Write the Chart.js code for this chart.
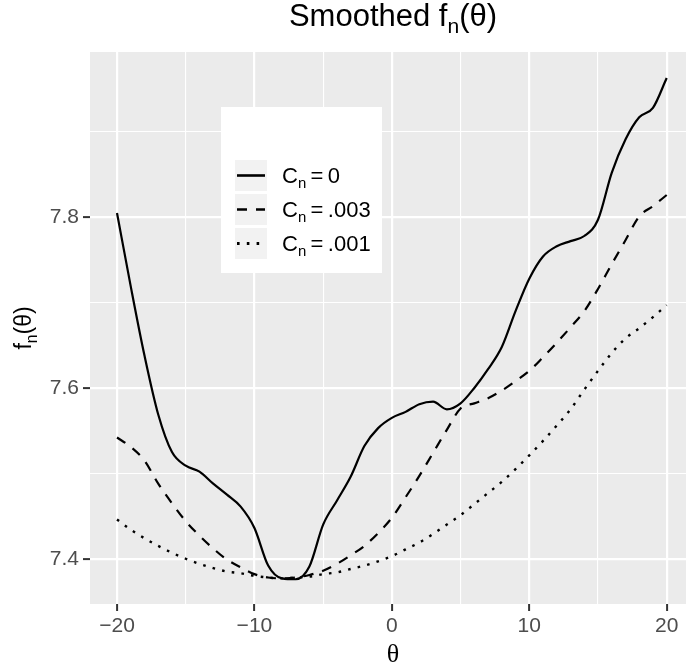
<!DOCTYPE html>
<html>
<head>
<meta charset="utf-8">
<script src="https://cdn.jsdelivr.net/npm/chart.js@4"></script>
<style>
  html, body { margin: 0; padding: 0; background: #ffffff; }
</style>
</head>
<body>
<canvas id="fnChart" width="686" height="669"></canvas>
<script>
// theta grid (x axis)
const theta = [-20,-19,-18,-17,-16,-15,-14,-13,-12,-11,-10,-9,-8,-7,-6,-5,-4,-3,-2,-1,
               0,1,2,3,4,5,6,7,8,9,10,11,12,13,14,15,16,17,18,19,20];

// smoothed f_n(theta) for each C_n
const fnC0 = [7.805,7.719,7.638,7.569,7.525,7.509,7.502,7.488,7.475,7.461,7.436,7.392,7.377,7.376,7.391,7.440,7.468,7.496,7.532,7.553,
              7.565,7.572,7.581,7.584,7.575,7.582,7.600,7.622,7.648,7.690,7.728,7.754,7.766,7.772,7.778,7.797,7.852,7.891,7.917,7.928,7.963];
const fnC003 = [7.542,7.531,7.515,7.488,7.465,7.444,7.427,7.412,7.399,7.390,7.382,7.378,7.377,7.378,7.381,7.386,7.394,7.404,7.415,7.430,
                7.448,7.472,7.497,7.524,7.551,7.576,7.582,7.588,7.597,7.608,7.620,7.636,7.653,7.671,7.690,7.716,7.745,7.773,7.801,7.813,7.826];
const fnC001 = [7.446,7.434,7.424,7.415,7.407,7.400,7.394,7.389,7.385,7.383,7.380,7.378,7.377,7.378,7.379,7.382,7.384,7.388,7.392,7.397,
                7.403,7.411,7.419,7.429,7.440,7.451,7.464,7.477,7.490,7.505,7.521,7.538,7.556,7.575,7.598,7.620,7.641,7.658,7.670,7.683,7.697];

const xTicks = [-20,-15,-10,-5,0,5,10,15,20];
const yTicks = [7.4,7.5,7.6,7.7,7.8,7.9];
const legendNames = ['0', '.003', '.001'];

const SANS = '"Liberation Sans", Arial, sans-serif';

// draw text with an optional subscript part: parts = [[text, isSub], ...]
function richWidth(ctx, parts, size) {
  let w = 0;
  parts.forEach(p => {
    ctx.font = (p[1] ? size * 0.68 : size) + 'px ' + (p[2] || SANS);
    w += ctx.measureText(p[0]).width;
  });
  return w;
}
function drawRich(ctx, parts, x, y, size) {
  parts.forEach(p => {
    ctx.font = (p[1] ? size * 0.68 : size) + 'px ' + (p[2] || SANS);
    ctx.fillText(p[0], x, p[1] ? y + size * 0.24 : y);
    x += ctx.measureText(p[0]).width;
  });
}

const ggDecor = {
  id: 'ggDecor',
  beforeDraw(chart) {
    const ctx = chart.ctx, a = chart.chartArea;
    ctx.save();
    ctx.fillStyle = '#ebebeb';
    ctx.fillRect(a.left, a.top, a.right - a.left, a.bottom - a.top);
    ctx.restore();
  },
  afterDraw(chart) {
    const ctx = chart.ctx;
    ctx.save();
    ctx.fillStyle = '#000000';
    ctx.textBaseline = 'alphabetic';

    // title
    const tParts = [['Smoothed f', false], ['n', true], ['(θ)', false]];
    const tw = richWidth(ctx, tParts, 31);
    drawRich(ctx, tParts, 393 - tw / 2, 26, 31);

    // x axis title
    ctx.font = '26px "Liberation Serif", serif';
    ctx.textAlign = 'center';
    ctx.fillText('θ', 393, 662);
    ctx.textAlign = 'left';

    // y axis title (rotated)
    ctx.save();
    ctx.translate(31, 328);
    ctx.rotate(-Math.PI / 2);
    const yParts = [['f', false], ['n', true], ['(θ)', false]];
    const yw = richWidth(ctx, yParts, 23);
    drawRich(ctx, yParts, -yw / 2, 0, 23);
    ctx.restore();

    // legend
    ctx.fillStyle = '#ffffff';
    ctx.fillRect(221, 107, 161, 166);
    const rowTop = [160, 194, 228];
    chart.data.datasets.forEach((ds, i) => {
      const top = rowTop[i];
      ctx.fillStyle = '#f2f2f2';
      ctx.fillRect(235, top, 32, 31);
      ctx.strokeStyle = ds.borderColor;
      ctx.lineWidth = ds.borderWidth + 0.4;
      ctx.setLineDash(ds.borderDash || []);
      ctx.beginPath();
      ctx.moveTo(237, top + 15.5);
      ctx.lineTo(265, top + 15.5);
      ctx.stroke();
      ctx.setLineDash([]);
      ctx.fillStyle = '#000000';
      drawRich(ctx, [['C', false], ['n', true], ['\u2009=\u2009' + legendNames[i], false]], 282, top + 23, 22);
    });
    ctx.restore();
  }
};

new Chart('fnChart', {
  type: 'line',
  data: {
    datasets: [
      {
        label: 'Cn = 0',
        data: theta.map((t, i) => ({ x: t, y: fnC0[i] })),
        borderColor: '#000000',
        borderWidth: 2.2
      },
      {
        label: 'Cn = .003',
        data: theta.map((t, i) => ({ x: t, y: fnC003[i] })),
        borderColor: '#000000',
        borderWidth: 2.2,
        borderDash: [10, 9]
      },
      {
        label: 'Cn = .001',
        data: theta.map((t, i) => ({ x: t, y: fnC001[i] })),
        borderColor: '#000000',
        borderWidth: 2.4,
        borderDash: [2.6, 7.2]
      }
    ]
  },
  options: {
    responsive: false,
    animation: false,
    events: [],
    layout: { padding: { top: 52, right: 0, bottom: 0, left: 0 } },
    elements: {
      point: { radius: 0 },
      line: { cubicInterpolationMode: 'monotone', fill: false, borderCapStyle: 'butt' }
    },
    plugins: {
      legend: { display: false },
      title: { display: false },
      tooltip: { enabled: false }
    },
    scales: {
      x: {
        type: 'linear',
        min: -21.965,
        max: 21.405,
        afterBuildTicks: s => { s.ticks = xTicks.map(v => ({ value: v })); },
        afterFit: s => { s.height = 65; },
        border: { display: false },
        grid: {
          color: '#ffffff',
          lineWidth: c => (c.index % 2 === 0 ? 2.2 : 1.1),
          drawTicks: true,
          tickLength: 7,
          tickWidth: 2,
          tickColor: c => (c.index % 2 === 0 ? '#333333' : 'rgba(0,0,0,0)')
        },
        ticks: {
          padding: 3,
          color: '#4d4d4d',
          font: { family: SANS, size: 21 },
          maxRotation: 0,
          autoSkip: false,
          callback: (v, i) => (i % 2 === 0 ? (v < 0 ? '\u2212' + Math.abs(v) : String(v)) : '')
        }
      },
      y: {
        type: 'linear',
        min: 7.347,
        max: 7.9935,
        afterBuildTicks: s => { s.ticks = yTicks.map(v => ({ value: v })); },
        afterFit: s => { s.width = 90; },
        border: { display: false },
        grid: {
          color: '#ffffff',
          lineWidth: c => (c.index % 2 === 0 ? 2.2 : 1.1),
          drawTicks: true,
          tickLength: 7,
          tickWidth: 2,
          tickColor: c => (c.index % 2 === 0 ? '#333333' : 'rgba(0,0,0,0)')
        },
        ticks: {
          padding: 4,
          color: '#4d4d4d',
          font: { family: SANS, size: 21 },
          autoSkip: false,
          callback: (v, i) => (i % 2 === 0 ? v.toFixed(1) : '')
        }
      }
    }
  },
  plugins: [ggDecor]
});
</script>
</body>
</html>
